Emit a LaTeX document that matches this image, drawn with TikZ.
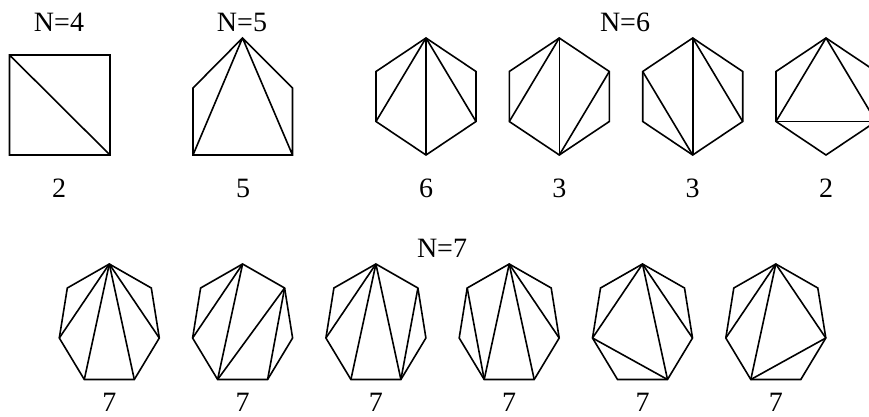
\documentclass[tikz,border=0pt]{standalone}
\usepackage{fontspec}
\setmainfont{Liberation Serif}
\begin{document}
\begin{tikzpicture}[x=1pt,y=-1pt,
  edge/.style={line width=1.6pt},
  lbl/.style={font=\fontsize{28}{30}\selectfont, inner sep=0pt, anchor=base}]
\useasboundingbox (0,0) rectangle (869,417);
\clip (0,0) rectangle (869,417);
% N=4 square
\coordinate (s0) at (9.5,55);
\coordinate (s1) at (110,55);
\coordinate (s2) at (110,155);
\coordinate (s3) at (9.5,155);
\draw[edge] (s0)--(s1)--(s2)--(s3)--cycle (s0)--(s2);
\node[lbl] (t4) at (59,32) {N=4};
\node[lbl] (c4) at (59,197) {2};
% N=5 pentagon
\coordinate (p0) at (242.5,38);
\coordinate (p1) at (193,88);
\coordinate (p2) at (193,155);
\coordinate (p3) at (292.5,155);
\coordinate (p4) at (292.5,88);
\draw[edge] (p0)--(p1)--(p2)--(p3)--(p4)--cycle (p0)--(p2) (p0)--(p3);
\node[lbl] (t5) at (242,32) {N=5};
\node[lbl] (c5) at (243,197) {5};
% N=6 hexagons
\foreach \i/\cx/\lab/\diags in {1/426/6/{0/2,0/3,0/4},2/559.3/3/{0/2,0/3,3/5},3/692.7/3/{0/3,0/4,3/1},4/826/2/{0/2,0/4,2/4}}{
  \coordinate (h\i-0) at (\cx,38);
  \coordinate (h\i-1) at (\cx-50,71.5);
  \coordinate (h\i-2) at (\cx-50,121.5);
  \coordinate (h\i-3) at (\cx,155);
  \coordinate (h\i-4) at (\cx+50,121.5);
  \coordinate (h\i-5) at (\cx+50,71.5);
  \draw[edge] (h\i-0)--(h\i-1)--(h\i-2)--(h\i-3)--(h\i-4)--(h\i-5)--cycle;
  \foreach \a/\b in \diags { \draw[edge] (h\i-\a)--(h\i-\b); }
  \node[lbl] (hl\i) at (\cx,197) {\lab};
}
\node[lbl] (t6) at (625,32) {N=6};
% N=7 heptagons
\foreach \i/\cx/\diags in {1/109.3/{0/2,0/3,0/4,0/5},2/242.6/{0/2,0/3,3/6,4/6},3/375.9/{0/2,0/3,0/4,4/6},4/509.2/{0/3,0/4,0/5,1/3},5/642.5/{0/2,0/4,0/5,2/4},6/775.8/{0/2,0/3,0/5,3/5}}{
  \coordinate (g\i-0) at (\cx,264);
  \coordinate (g\i-1) at (\cx-42,288);
  \coordinate (g\i-2) at (\cx-50,338);
  \coordinate (g\i-3) at (\cx-25,379.5);
  \coordinate (g\i-4) at (\cx+25,379.5);
  \coordinate (g\i-5) at (\cx+50,338);
  \coordinate (g\i-6) at (\cx+42,288);
  \draw[edge] (g\i-0)--(g\i-1)--(g\i-2)--(g\i-3)--(g\i-4)--(g\i-5)--(g\i-6)--cycle;
  \foreach \a/\b in \diags { \draw[edge] (g\i-\a)--(g\i-\b); }
  \node[lbl] (gl\i) at (\cx,411) {7};
}
\node[lbl] (t7) at (442,257) {N=7};
\end{tikzpicture}
\end{document}
